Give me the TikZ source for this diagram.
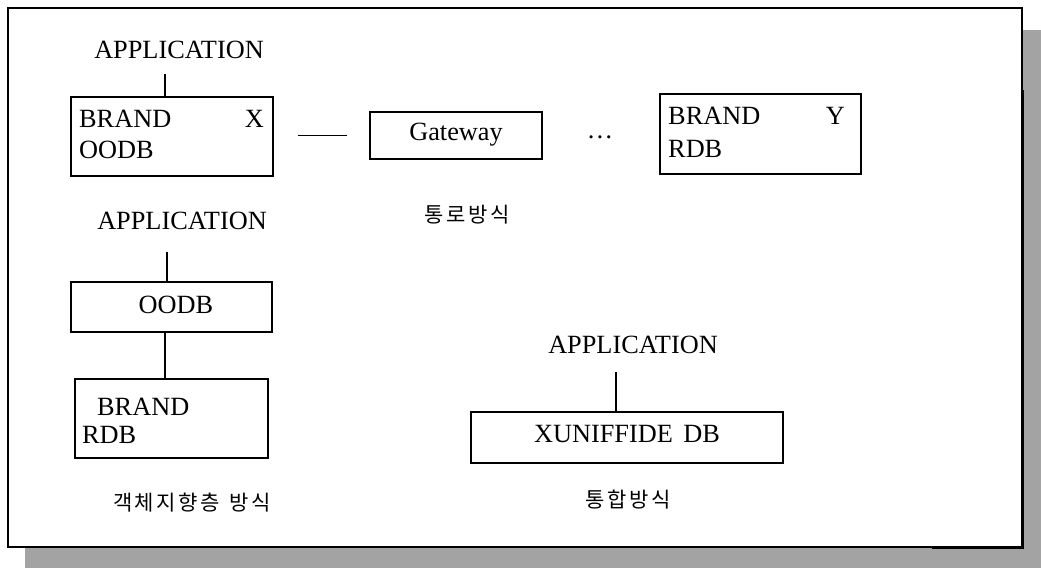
\documentclass[tikz,border=0pt]{standalone}
\usepackage{fontspec}
\setmainfont{Liberation Serif}
\newfontfamily\kr[LetterSpace=12]{Noto Sans CJK KR}
\begin{document}
\begin{tikzpicture}[x=1pt,y=-1pt,
  box/.style={draw,line width=1.3pt,inner sep=0pt},
  txt/.style={inner sep=0pt,font=\fontsize{26.3}{31}\selectfont},
  krtxt/.style={inner sep=0pt,font=\kr\fontsize{21}{25}\selectfont},
  conn/.style={line width=1.1pt}]
\useasboundingbox (0,0) rectangle (1041,568);
% shadow
\fill[black!36] (1023,30) rectangle (1041,568);
\fill[black!36] (25,548) rectangle (1041,568);
% frame
\draw[line width=1.5pt,fill=white] (8,8) rectangle (1022,547);
\draw[line width=3pt] (932,547) -- (1022.5,547) -- (1022.5,90);

% ---- top-left: APPLICATION / BRAND X OODB
\node[txt] (app1) at (179,50) {APPLICATION};
\node[box,minimum width=202pt,minimum height=79pt] (bx) at (172,136.5) {};
\node[txt,anchor=base west] (bxa) at (79,127) {BRAND};
\node[txt,anchor=base east] (bxb) at (264,127) {X};
\node[txt,anchor=base west] (bxc) at (79,158) {OODB};
\coordinate (c1) at (165,0);
\draw[conn,shorten >=15pt] (bx.north -| c1) -- (app1.south -| c1);

% Gateway
\node[box,minimum width=172pt,minimum height=47pt] (gw) at (456,135.5) {};
\node[txt] (gwt) at (456,135) {Gateway};
\draw[conn] ([xshift=24pt]bx.east |- gw.center) -- ([xshift=-22pt]gw.west);
\node[txt,anchor=base] (dots) at (600,138) {\dots};

% BRAND Y RDB
\node[box,minimum width=201pt,minimum height=80pt] (by) at (760.5,134) {};
\node[txt,anchor=base west] (bya) at (668,124) {BRAND};
\node[txt,anchor=base east] (byb) at (845,124) {Y};
\node[txt,anchor=base west] (byc) at (668,157) {RDB};

\node[krtxt] (l1) at (467,215) {통로방식};

% ---- left: APPLICATION / OODB / BRAND RDB
\node[txt] (app2) at (182,221) {APPLICATION};
\node[box,minimum width=201pt,minimum height=50pt] (oo) at (171.5,307) {};
\node[txt] (oot) at (176,305) {OODB};
\node[box,minimum width=193pt,minimum height=79pt] (br) at (171.5,418.5) {};
\node[txt,anchor=base west] (bra) at (97,415) {BRAND};
\node[txt,anchor=base west] (brb) at (82,443) {RDB};
\coordinate (c2) at (167,0);
\draw[conn,shorten >=22pt] (oo.north -| c2) -- (app2.south -| c2);
\coordinate (c3) at (165,0);
\draw[conn] (oo.south -| c3) -- (br.north -| c3);
\node[krtxt] (l2) at (192,503) {객체지향층\hspace{10pt}방식};

% ---- right: APPLICATION / XUNIFFIDE DB
\node[txt] (app3) at (633,345) {APPLICATION};
\node[box,minimum width=312pt,minimum height=51pt] (xu) at (627,437.5) {};
\node[txt] (xut) at (627,434) {XUNIFFIDE\hspace{4pt} DB};
\coordinate (c4) at (616,0);
\draw[conn,shorten >=18pt] (xu.north -| c4) -- (app3.south -| c4);
\node[krtxt] (l3) at (628,500) {통합방식};
\end{tikzpicture}
\end{document}
